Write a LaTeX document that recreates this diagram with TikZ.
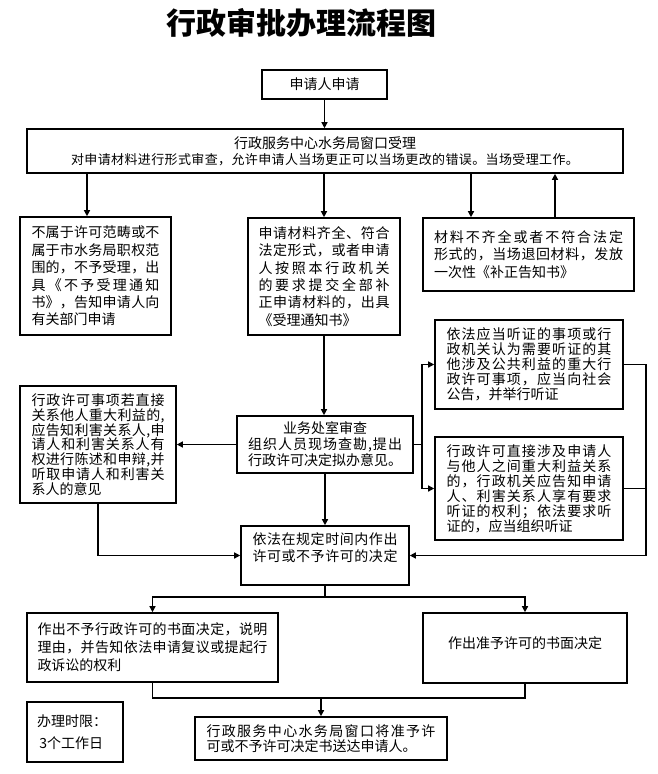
\documentclass[tikz,border=0pt]{standalone}
\usepackage{fontspec}
\setmainfont{Noto Sans CJK SC}
\usetikzlibrary{arrows.meta}
\makeatletter
\def\spr@ad#1{\ifx\@nil#1\else#1\hfil\expandafter\spr@ad\fi}
\newcommand\jl[2]{\makebox[#1][s]{\spr@ad#2\@nil\unskip}}
\newcommand\lft[2]{\makebox[#1][l]{#2}}
\makeatother
\tikzset{
  flowbox/.style={draw, line width=1.6pt, inner sep=0pt, align=center,
    font=\fontsize{14}{17.4}\selectfont},
  arr/.style={line width=1.3pt, -{Triangle[length=6pt,width=6pt]}},
  ln/.style={line width=1.3pt},
}
\begin{document}
\begin{tikzpicture}[x=1pt,y=-1pt]
\useasboundingbox (0,0) rectangle (658,774);
\node (title) at (301,23) {\fontsize{30}{30}\selectfont\bfseries 行政审批办理流程图};

\node[flowbox, minimum width=125pt, minimum height=29pt] (apply) at (324.5,84.5) {申请人申请};

\node[flowbox, minimum width=596pt, minimum height=44pt] (window) at (325,151)
 {行政服务中心水务局窗口受理\\[-1pt]
  {\fontsize{13}{17}\selectfont\jl{508pt}{对申请材料进行形式审查，允许申请人当场更正可以当场更改的错误。当场受理工作。}}};

\node[flowbox, minimum width=151pt, minimum height=118pt] (nocomp) at (95.5,276)
 {\jl{128pt}{不属于许可范畴或不}\\
  \jl{128pt}{属于市水务局职权范}\\
  \jl{128pt}{围的，不予受理，出}\\
  \jl{128pt}{具《不予受理通知}\\
  \jl{128pt}{书》，告知申请人向}\\
  \lft{128pt}{有关部门申请}};

\node[flowbox, minimum width=152pt, minimum height=117pt] (accept) at (324,276.5)
 {\jl{131pt}{申请材料齐全、符合}\\
  \jl{131pt}{法定形式，或者申请}\\
  \jl{131pt}{人按照本行政机关}\\
  \jl{131pt}{的要求提交全部补}\\
  \jl{131pt}{正申请材料的，出具}\\
  \lft{131pt}{《受理通知书》}};

\node[flowbox, minimum width=211pt, minimum height=73pt, font=\fontsize{14}{17.8}\selectfont] (retmat) at (528.5,254.5)
 {\jl{189pt}{材料不齐全或者不符合法定}\\
  \jl{189pt}{形式的，当场退回材料，发放}\\
  \lft{189pt}{一次性《补正告知书》}};

\node[flowbox, minimum width=176pt, minimum height=57pt, font=\fontsize{14}{16}\selectfont] (review) at (325,444.5)
 {业务处室审查\\
  \jl{154pt}{组织人员现场查勘,提出}\\
  \jl{154pt}{行政许可决定拟办意见。}};

\node[flowbox, minimum width=156pt, minimum height=117pt, font=\fontsize{14}{14.8}\selectfont] (inform) at (98,444.5)
 {\jl{133pt}{行政许可事项若直接}\\
  \jl{133pt}{关系他人重大利益的,}\\
  \jl{133pt}{应告知利害关系人,申}\\
  \jl{133pt}{请人和利害关系人有}\\
  \jl{133pt}{权进行陈述和申辩,并}\\
  \jl{133pt}{听取申请人和利害关}\\
  \lft{133pt}{系人的意见}};

\node[flowbox, minimum width=188pt, minimum height=89pt, font=\fontsize{14}{15}\selectfont] (hearA) at (529,364.5)
 {\jl{165pt}{依法应当听证的事项或行}\\
  \jl{165pt}{政机关认为需要听证的其}\\
  \jl{165pt}{他涉及公共利益的重大行}\\
  \jl{165pt}{政许可事项，应当向社会}\\
  \lft{165pt}{公告，并举行听证}};

\node[flowbox, minimum width=188pt, minimum height=103pt, font=\fontsize{14}{15}\selectfont] (hearB) at (529,488.5)
 {\jl{165pt}{行政许可直接涉及申请人}\\
  \jl{165pt}{与他人之间重大利益关系}\\
  \jl{165pt}{的，行政机关应告知申请}\\
  \jl{165pt}{人、利害关系人享有要求}\\
  \jl{165pt}{听证的权利；依法要求听}\\
  \lft{165pt}{证的，应当组织听证}};

\node[flowbox, minimum width=168pt, minimum height=59pt, font=\fontsize{14}{17}\selectfont] (decide) at (325,555.5)
 {\jl{145pt}{依法在规定时间内作出}\\
  \jl{145pt}{许可或不予许可的决定}\\
  \mbox{}};

\node[flowbox, minimum width=251pt, minimum height=69pt, font=\fontsize{14}{18}\selectfont] (refuse) at (152.5,647.5)
 {\jl{230pt}{作出不予行政许可的书面决定，说明}\\
  \jl{230pt}{理由，并告知依法申请复议或提起行}\\
  \lft{230pt}{政诉讼的权利}};

\node[flowbox, minimum width=204pt, minimum height=70pt] (grant) at (525,648)
 {作出准予许可的书面决定\\[-6pt]\mbox{}};

\node[flowbox, minimum width=252pt, minimum height=43pt, font=\fontsize{14}{15}\selectfont] (deliver) at (321,738.5)
 {\jl{229pt}{行政服务中心水务局窗口将准予许}\\
  \lft{229pt}{可或不予许可决定书送达申请人。}};

\node[flowbox, minimum width=96pt, minimum height=60pt, font=\fontsize{14}{22}\selectfont] (limit) at (75,732)
 {\lft{76pt}{办理时限：}\\
  \lft{76pt}{\,3个工作日}};

% helper coordinates
\coordinate (c1) at (87,0);
\coordinate (c2) at (471,0);
\coordinate (c3) at (555,0);
\coordinate (j) at (422,0);
\coordinate (r) at (646,0);
\coordinate (m) at (0,597);
\coordinate (n) at (0,698);

% connectors
\draw[arr] (apply.south) -- (window.north -| apply.south);
\draw[arr] (window.south -| c1) -- (nocomp.north -| c1);
\draw[arr] (window.south -| accept.north) -- (accept.north);
\draw[arr] (window.south -| c2) -- (retmat.north -| c2);
\draw[arr] (retmat.north -| c3) -- (window.south -| c3);
\draw[arr] (accept.south) -- (review.north -| accept.south);
\draw[arr] (review.west) -- (inform.east |- review.west);
\draw[arr] (inform.south) |- (decide.west);
\draw[arr] (review.south) -- (decide.north);
\draw[ln] (review.east) -- (review.east -| j);
\draw[arr] (review.east -| j) |- (hearA.west);
\draw[arr] (review.east -| j) |- (hearB.west);
\draw[ln] (hearB.east) -- (hearB.east -| r);
\draw[arr] (hearA.east) -| (r |- decide.east) -- (decide.east);
\draw[ln] (decide.south) -- (decide.south |- m);
\draw[arr] (decide.south |- m) -| (refuse.north);
\draw[arr] (decide.south |- m) -| (grant.north);
\draw[ln] (refuse.south) |- (grant.south |- n) -- (grant.south);
\draw[arr] (deliver.north |- n) -- (deliver.north);
\end{tikzpicture}
\end{document}
